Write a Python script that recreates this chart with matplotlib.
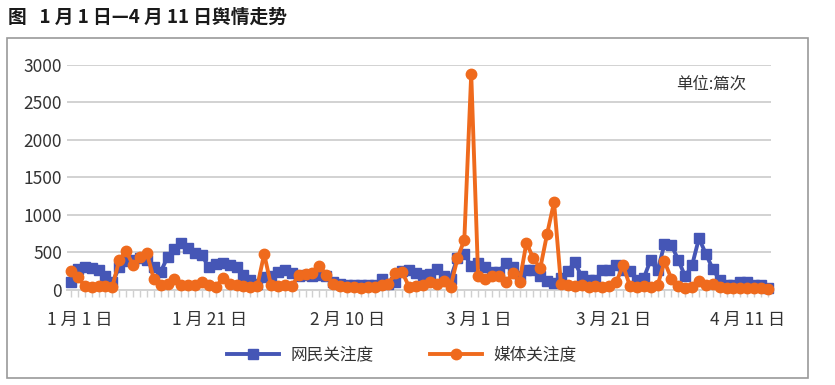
import matplotlib
matplotlib.use("Agg")
import matplotlib.pyplot as plt
from matplotlib.patches import Rectangle

plt.rcParams['font.family'] = ['Noto Sans CJK SC', 'DejaVu Sans']

# daily counts, 1 Jan - 11 Apr (102 days)
netizen = [100, 280, 300, 290, 260, 180, 100, 300, 380, 400,
           430, 400, 300, 240, 440, 540, 630, 560, 490, 460,
           300, 350, 360, 330, 300, 200, 130, 80, 170, 180,
           240, 260, 230, 180, 200, 190, 200, 180, 110, 80,
           70, 60, 70, 60, 60, 140, 80, 100, 250, 260,
           220, 200, 210, 280, 190, 150, 430, 480, 320, 360,
           310, 240, 240, 360, 310, 180, 260, 260, 180, 120,
           90, 160, 250, 370, 180, 130, 130, 260, 270, 330,
           260, 250, 130, 160, 400, 260, 610, 600, 400, 180,
           330, 690, 480, 280, 130, 70, 70, 100, 110, 60,
           60, 30]
media = [250, 170, 50, 40, 50, 50, 40, 400, 520, 330,
         440, 490, 150, 60, 80, 150, 60, 70, 60, 100,
         60, 40, 160, 80, 60, 50, 40, 50, 480, 60,
         50, 60, 50, 200, 210, 220, 320, 200, 80, 50,
         40, 40, 30, 40, 40, 60, 80, 220, 240, 40,
         50, 60, 110, 80, 120, 40, 420, 670, 2880, 180,
         150, 180, 180, 100, 220, 110, 630, 420, 290, 750,
         1170, 80, 60, 50, 60, 40, 50, 40, 50, 100,
         330, 50, 40, 50, 40, 60, 380, 150, 50, 30,
         40, 120, 60, 80, 40, 20, 30, 20, 30, 20,
         20, 10]
tick_labels = ["1 月 1 日", "1 月 21 日", "2 月 10 日", "3 月 1 日", "3 月 21 日", "4 月 11 日"]
y_ticks = [0, 500, 1000, 1500, 2000, 2500, 3000]

blue = "#4556b6"
orange = "#ef6a1d"
txt = "#333333"

days = list(range(len(netizen)))

fig = plt.figure(figsize=(8.35, 3.85), dpi=100)
ax = fig.add_axes([0.0808, 0.2468, 0.8431, 0.5844])

# outer frame
fig.patches.append(Rectangle((0.008, 0.018), 0.96, 0.883, transform=fig.transFigure,
                             fill=False, edgecolor="#9a9a9a", linewidth=1.2))
fig.text(0.01, 0.955, "图   1 月 1 日—4 月 11 日舆情走势", fontsize=13.5,
         color="#1a1a1a", va="center", ha="left", fontweight="bold")

ax.plot(days, netizen, color=blue, lw=2.8, marker="s", ms=6.8, label="网民关注度",
        zorder=3, clip_on=False)
ax.plot(days, media, color=orange, lw=2.8, marker="o", ms=7.5, label="媒体关注度",
        zorder=4, clip_on=False)

ax.set_xlim(-0.5, 101.5)
ax.set_ylim(0, 3000)
ax.set_yticks(y_ticks)
ax.set_yticklabels([str(v) for v in y_ticks])
ax.grid(axis="y", color="#d2d2d2", lw=1.4)
ax.set_axisbelow(True)

# label spots as laid out in the original, in day units
ax.set_xticks([1.3, 20.1, 40.1, 59.1, 78.7, 98.1])
ax.set_xticklabels(tick_labels)
ax.set_xticks(days, minor=True)
ax.tick_params(axis="x", which="major", length=0, pad=15, labelsize=12.5, colors=txt)
ax.tick_params(axis="x", which="minor", length=5, width=1, color="#d0d0d0")
ax.tick_params(axis="y", length=0, pad=4, labelsize=12.5, colors=txt)

for s in ["top", "right", "left"]:
    ax.spines[s].set_visible(False)
ax.spines["bottom"].set_color("#d2d2d2")
ax.spines["bottom"].set_linewidth(1.4)

ax.text(0.865, 0.915, "单位:篇次", transform=ax.transAxes, fontsize=11.8, color=txt,
        ha="left", va="center")

ax.legend(loc="center", bbox_to_anchor=(0.481, 0.078), bbox_transform=fig.transFigure,
          ncol=2, frameon=False, fontsize=12, handlelength=3.1, handletextpad=0.7,
          columnspacing=3.4, labelcolor=txt)

fig.savefig("out.png", dpi=100)
